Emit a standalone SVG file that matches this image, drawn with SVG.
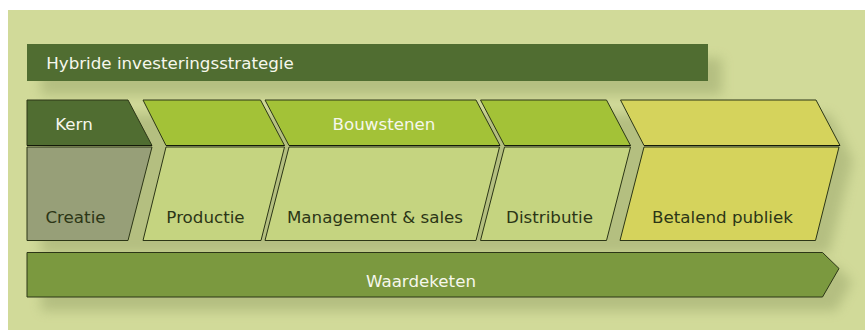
<svg xmlns="http://www.w3.org/2000/svg" width="865" height="330" viewBox="0 0 865 330">
<style>
text{font-family:"DejaVu Sans",Verdana,sans-serif;font-size:16.7px;text-anchor:middle}
.w{fill:#f6f7ec}.d{fill:#2c3616}
.s{stroke:#2c3616;stroke-width:1;stroke-linejoin:miter}
.e{stroke:#141a08;stroke-width:1}
</style>
<defs><filter id="b" x="-10%" y="-30%" width="120%" height="160%"><feGaussianBlur stdDeviation="6"/></filter></defs>
<rect x="8" y="10" width="857" height="320" fill="#d1da99"/>
<g id="shadows" fill="#8d9a60" opacity="0.42" filter="url(#b)">
<rect x="41" y="58" width="681" height="37"/>
<polygon points="41,114 830,114 853,160 829,254 41,254"/>
<polygon points="41,266 836,266 852,282 836,311 41,311"/>
</g>
<g id="strategy"><rect x="27" y="44" width="681" height="37" fill="#506d31"/><text x="170" y="68.500" class="w">Hybride investeringsstrategie</text></g>
<g id="kern"><polygon class="s" points="27,100 128,100 152,145.500 27,145.500" fill="#506d31"/><line class="e" x1="27" y1="145.500" x2="152" y2="145.500"/><text x="74" y="129.500" class="w">Kern</text></g>
<g id="creatie"><polygon class="s" points="27,147 152,147 128,240.500 27,240.500" fill="#979f78"/><text x="75.500" y="223" class="d">Creatie</text></g>
<g id="head-productie"><polygon class="s" points="143,100 260.500,100 284.500,145.500 166,145.500" fill="#a3c237"/><line class="e" x1="166" y1="145.500" x2="284.500" y2="145.500"/></g>
<g id="productie"><polygon class="s" points="166,147 284.500,147 261,240.500 143,240.500" fill="#c5d480"/><text x="205.500" y="223" class="d">Productie</text></g>
<g id="head-bouwstenen"><polygon class="s" points="265,100 476,100 500,145.500 289,145.500" fill="#a3c237"/><line class="e" x1="289" y1="145.500" x2="500" y2="145.500"/><text x="384" y="129.500" class="w">Bouwstenen</text></g>
<g id="management"><polygon class="s" points="289,147 499.500,147 476,240.500 265,240.500" fill="#c5d480"/><text x="375" y="223" class="d">Management &amp; sales</text></g>
<g id="head-distributie"><polygon class="s" points="480.500,100 606.500,100 630.500,145.500 504.500,145.500" fill="#a3c237"/><line class="e" x1="504.500" y1="145.500" x2="630.500" y2="145.500"/></g>
<g id="distributie"><polygon class="s" points="504.500,147 630.500,147 606.500,240.500 480.500,240.500" fill="#c5d480"/><text x="549.500" y="223" class="d">Distributie</text></g>
<g id="head-publiek"><polygon class="s" points="620.500,100 816,100 840,145.500 644,145.500" fill="#d5d35c"/><line class="e" x1="644" y1="145.500" x2="840" y2="145.500"/></g>
<g id="publiek"><polygon class="s" points="644,147 839,147 815.500,240.500 620,240.500" fill="#d5d35c"/><text x="722.500" y="223" class="d">Betalend publiek</text></g>
<g id="waardeketen"><polygon class="s" points="27,252.500 822.500,252.500 839,268.500 822.500,297 27,297" fill="#7b993f"/><text x="421" y="286.500" class="w">Waardeketen</text></g>
</svg>
